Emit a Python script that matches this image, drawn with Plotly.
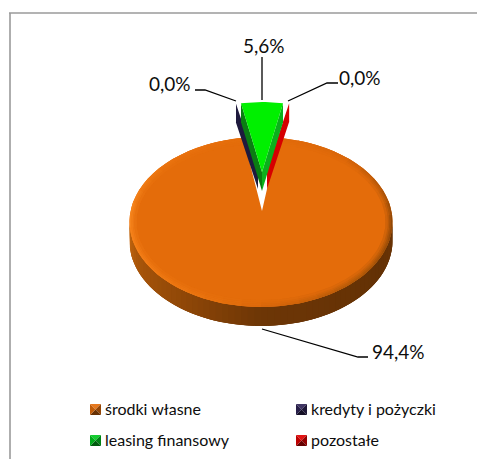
import math
import plotly.graph_objects as go

categories = ["środki własne", "kredyty i pożyczki", "leasing finansowy", "pozostałe"]
values = [94.36, 0.02, 5.6, 0.02]
colors = ["#e46c0a", "#1f1a3d", "#00f000", "#d60000"]
legend_colors = ["#e46c0a", "#2e2355", "#00c81e", "#e00000"]

W, H = 485, 459
PAGE = 8  # the page's own margin around the figure
FONT = "Lato"
DEPTH = 19
FAR = 0.76  # perspective squeeze of angles near the far rim of the main slice

# cumulative clockwise angles, leasing slice centred on 12 o'clock
total = sum(values)
spans = [v / total * 360 for v in values]
start = spans[2] / 2 + spans[3]
angles = []
a = start
for s in spans:
    angles.append((a, a + s))
    a += s


def rim(cx, cy, rx, ry, t):
    r = math.radians(t)
    return cx + rx * math.sin(r), cy - ry * math.cos(r)


def arc(cx, cy, rx, ry, t0, t1, n=48):
    return [rim(cx, cy, rx, ry, t0 + (t1 - t0) * i / n) for i in range(n + 1)]


def poly(fig, pts, color):
    xs = [p[0] for p in pts] + [pts[0][0]]
    ys = [p[1] for p in pts] + [pts[0][1]]
    fig.add_trace(go.Scatter(x=xs, y=ys, mode="lines", fill="toself", fillcolor=color,
                             line=dict(color=color, width=0), hoverinfo="skip", showlegend=False))


def hex2(c):
    return tuple(int(c[i:i + 2], 16) for i in (1, 3, 5))


def mix(c1, c2, f):
    a_, b_ = hex2(c1), hex2(c2)
    return "#%02x%02x%02x" % tuple(round(a_[i] + (b_[i] - a_[i]) * f) for i in range(3))


def ramp(stops, t):
    for (t0, c0), (t1, c1) in zip(stops, stops[1:]):
        if t0 <= t <= t1:
            return mix(c0, c1, (t - t0) / (t1 - t0))
    return stops[-1][1]


fig = go.Figure()

# ---- main slice
CX, CY, RX, RY = 261, 222, 131.5, 85
APEX = (262, 211)
t0, t1 = angles[0]
t0 *= FAR
t1 = 360 - (360 - t1) * FAR

wall_stops = [(0, "#6b3506"), (90, "#6b3506"), (115, "#633105"), (180, "#6d3606"),
              (215, "#8f4707"), (250, "#a9560a"), (270, "#c86a10"), (360, "#c86a10")]
N = 64
for i in range(N):
    a0 = 88 + (272 - 88) * i / N
    # each band reaches to the far end, later bands paint over it: no seams
    p_arc = arc(CX, CY, RX, RY, a0, min(a0 + 3 * (272 - 88) / N, 272), 4)
    low = [(x, y + DEPTH) for x, y in reversed(p_arc)]
    poly(fig, p_arc + low, ramp(wall_stops, a0 + 0.5 * (272 - 88) / N))

poly(fig, [APEX] + arc(CX, CY, RX, RY, t0, t1, 120), colors[0])

edge_stops = [(0, "#e46c0a"), (40, "#d8660a"), (90, "#8f4808"), (130, "#b05808"), (170, "#d4650a"),
              (200, "#e8720e"), (240, "#f27c16"), (275, "#f7861e"), (310, "#ea7410"), (360, "#e46c0a")]
RINGS = 4
STEP = 1.6
SEG = 40
d = (t1 - t0) / SEG
for k in range(RINGS):
    f = 1 - k / RINGS
    for i in range(SEG):
        a0 = t0 + d * i
        a1 = min(a0 + 2 * d, t1)
        outer = arc(CX, CY, RX - k * STEP, RY - k * STEP, a0, a1, 4)
        inner = arc(CX, CY, RX - (k + 1) * STEP - 0.5, RY - (k + 1) * STEP - 0.5, a1, a0, 4)
        poly(fig, outer + inner, mix(colors[0], ramp(edge_stops, a0 + d / 2), f))


def thin_slice(idx, cx, apex):
    """A near-zero slice seen as its extruded wall."""
    a0, a1 = angles[idx]
    p0 = rim(cx, 187, 120, 85, a0)
    p1 = rim(cx, 187, 120, 85, a1)
    poly(fig, [apex, p0, p1, (p1[0], p1[1] + DEPTH), (p0[0], p0[1] + DEPTH),
               (apex[0], apex[1] + DEPTH)], colors[idx])


thin_slice(1, 257, (258, 170))
thin_slice(3, 268, (267, 170))

# ---- leasing slice
gx, gy, grx, gry = 262, 187, 120, 85
gapex = (262, 172)
g0, g1 = angles[2]
pl, pr = rim(gx, gy, grx, gry, g0), rim(gx, gy, grx, gry, g1)
poly(fig, [gapex, pl, (pl[0], pl[1] + DEPTH), (gapex[0], gapex[1] + DEPTH)], "#0a7d12")
poly(fig, [gapex, pr, (pr[0], pr[1] + DEPTH), (gapex[0], gapex[1] + DEPTH)], "#0bb01c")
poly(fig, [gapex] + arc(gx, gy, grx, gry, g0, g1, 12), colors[2])

# ---- leader lines
leaders = [
    ([262, 262], [57, 100]),
    ([195, 205, 236], [90, 90, 101]),
    ([288, 327, 338], [101, 83, 83]),
    ([262, 358, 368], [329, 357, 357]),
]
for lx, ly in leaders:
    fig.add_trace(go.Scatter(x=lx, y=ly, mode="lines", line=dict(color="#000000", width=1.3),
                             hoverinfo="skip", showlegend=False))


def fmt(v):
    return f"{v:.1f}%".replace(".", ",")


labels = [fmt(v) for v in values]
label_pos = [(372, 351), (149, 83), (243, 45), (339, 77)]
annotations = []
for text, (x, y) in zip(labels, label_pos):
    annotations.append(dict(x=x, y=y, xref="x", yref="y", text=text, showarrow=False, xanchor="left",
                            yanchor="middle", xshift=-2, font=dict(family=FONT, size=19, color="#0d0d0d")))

# ---- legend
leg_pos = [(90, 404), (296, 404), (90, 435), (296, 435)]
S = 11
for name, col, (x, y) in zip(categories, legend_colors, leg_pos):
    c = (x + S / 2, y + S / 2)
    tl, tr, br, bl = (x, y), (x + S, y), (x + S, y + S), (x, y + S)
    poly(fig, [tl, tr, c], mix(col, "#ffffff", 0.08))
    poly(fig, [tr, br, c], mix(col, "#000000", 0.35))
    poly(fig, [br, bl, c], mix(col, "#000000", 0.55))
    poly(fig, [bl, tl, c], mix(col, "#000000", 0.15))
    annotations.append(dict(x=x + S + 3, y=y + S / 2 - 1, xref="x", yref="y", text=name, showarrow=False,
                            xanchor="left", yanchor="middle", xshift=-1,
                            font=dict(family=FONT, size=16, color="#0d0d0d")))

frame = [
    dict(type="line", xref="x", yref="y", x0=10, x1=10, y0=13, y1=H, line=dict(color="#9a9a9a", width=1.6)),
    dict(type="line", xref="x", yref="y", x0=9, x1=W, y0=13, y1=13, line=dict(color="#9a9a9a", width=1.6)),
]

fig.update_layout(
    width=W - PAGE, height=H - PAGE, margin=dict(l=0, r=0, t=0, b=0),
    paper_bgcolor="#ffffff", plot_bgcolor="#ffffff", showlegend=False,
    xaxis=dict(range=[PAGE, W], visible=False, fixedrange=True),
    yaxis=dict(range=[H, PAGE], visible=False, fixedrange=True),
    annotations=annotations, shapes=frame,
)
fig.write_html("out.html", config={"displayModeBar": False})
